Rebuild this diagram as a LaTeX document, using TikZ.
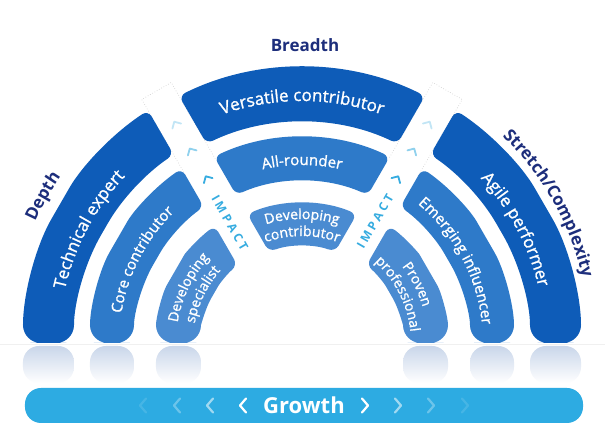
\documentclass[tikz,border=0pt]{standalone}
\usepackage{fontspec}
\setmainfont{Open Sans}
\newfontfamily\bandface{Open Sans}[FakeBold=1.2]
\usetikzlibrary{decorations.text}

\definecolor{outerblue}{HTML}{0E5CB8}
\definecolor{midblue}{HTML}{2E7AC9}
\definecolor{innerblue}{HTML}{4A8BD1}
\definecolor{titleblue}{HTML}{1D2E7C}
\definecolor{impactcyan}{HTML}{36ACE0}
\definecolor{growthcyan}{HTML}{2DABE2}
\definecolor{mirror}{HTML}{C9D6EA}

\newcommand{\hw}{17} % half width of the impact lanes
\newcommand{\bandfont}{\bandface\fontsize{17}{20}\selectfont}
\newcommand{\midfont}{\bandface\fontsize{15}{18}\selectfont}
\newcommand{\smallfont}{\bandface\fontsize{14}{16}\selectfont}
\newcommand{\titlefont}{\bfseries\fontsize{17}{20}\selectfont}

% left band: colour, inner radius, outer radius
\newcommand{\sideband}[3]{%
  \fill[#1] ({-(#2+#3)/2},0) [rounded corners=18pt] -- (180:#3)
    arc[start angle=180, end angle=150, radius=#3]
    [rounded corners=7pt] arc[start angle=150, end angle={120+asin(\hw/#3)}, radius=#3]
    -- ({120+asin(\hw/#2)}:#2)
    arc[start angle={120+asin(\hw/#2)}, end angle=150, radius=#2]
    [rounded corners=18pt] arc[start angle=150, end angle=180, radius=#2]
    -- cycle;}
% top band: colour, inner radius, outer radius
\newcommand{\topband}[3]{%
  \fill[#1, rounded corners=7pt] ({120-asin(\hw/#3)}:#3)
    arc[start angle={120-asin(\hw/#3)}, end angle={60+asin(\hw/#3)}, radius=#3]
    -- ({60+asin(\hw/#2)}:#2)
    arc[start angle={60+asin(\hw/#2)}, end angle={120-asin(\hw/#2)}, radius=#2]
    -- cycle;}
% text on a clockwise arc: colour, font, radius, from, to, text
\newcommand{\arctext}[6]{%
  \path[decorate, decoration={text along path, text align=center,
    text color=#1, text={|#2|#6}}]
    (#4:#3) arc[start angle=#4, end angle=#5, radius=#3];}

\begin{document}
\begin{tikzpicture}[x=1pt, y=1pt,
  lane/.style={gray!40, dotted, line width=0.6pt},
  chev/.pic={\draw (-3.5,5) -- (1.5,0) -- (-3.5,-5);},
  barchev/.pic={\draw (-3,7) -- (3,0) -- (-3,-7);},
  impact/.style={text=impactcyan, font=\bfseries\fontsize{12}{14}\selectfont, inner sep=0pt},
  title/.style={text=titleblue, font=\titlefont, inner sep=0pt}]
\useasboundingbox (-302,-84) rectangle (303,343);
\fill[white] (-302,-84) rectangle (303,343);

% floor and mirror images
\draw[gray!12, line width=0.6pt] (-302,-1) -- (303,-1);
\foreach \a/\b in {-279/-228, -212/-168, -146/-101, 101/146, 168/212, 228/279}
  \shade[top color=mirror, bottom color=white, rounded corners=16pt]
    (\a,-40) -- (\a,-3) -- (\b,-3) -- (\b,-40) -- cycle;

% impact lanes
\foreach \ang in {60,120}
  \draw[lane, rotate=\ang] (203,-\hw) -- (291,-\hw) -- (291,\hw) -- (203,\hw);

% bands
\foreach \c/\ri/\ro in {outerblue/228/279, midblue/168/212, innerblue/101/146} {
  \sideband{\c}{\ri}{\ro}
  \begin{scope}[xscale=-1]
    \sideband{\c}{\ri}{\ro}
  \end{scope}
}
\topband{outerblue}{221}{276}
\topband{midblue}{162}{206}
\topband{innerblue}{97}{140}

% band labels
\arctext{white}{\bandfont}{242}{130}{50}{Versatile contributor}
\arctext{white}{\bandfont}{243}{178}{126}{Technical expert}
\arctext{white}{\bandfont}{243}{54}{2}{Agile performer}
\arctext{white}{\midfont}{178}{125}{55}{All-rounder}
\arctext{white}{\midfont}{183}{180}{125}{Core contributor}
\arctext{white}{\midfont}{181}{55}{1}{Emerging influencer}
\arctext{white}{\smallfont}{124}{125}{55}{Developing}
\arctext{white}{\smallfont}{107}{125}{55}{contributor}
\arctext{white}{\smallfont}{126}{180}{128}{Developing}
\arctext{white}{\smallfont}{109}{180}{128}{specialist}
\arctext{white}{\smallfont}{126}{52}{2}{Proven}
\arctext{white}{\smallfont}{109}{52}{2}{professional}

% titles
\node[title] (breadth) at (3,298) {Breadth};
\arctext{titleblue}{\titlefont}{293}{175}{126}{Depth}
\arctext{titleblue}{\titlefont}{288}{62}{-3}{Stretch/Complexity}

% lane arrows and impact
\foreach \ang in {60,120}
  \foreach \r/\op in {191/1, 223/.55, 254/.3}
    \pic[impactcyan, line width=1.8pt, line cap=round, line join=round,
      opacity=\op, rotate=\ang] at (\ang:\r) {chev};
\node[impact, rotate=-60] (impactL) at (121:140) {I\kern3pt M\kern3pt P\kern3pt A\kern3pt C\kern3pt T};
\node[impact, rotate=60] (impactR) at (59:142) {I\kern3pt M\kern3pt P\kern3pt A\kern3pt C\kern3pt T};

% growth bar
\fill[growthcyan, rounded corners=16pt] (-277,-80) rectangle (281,-45);
\node[text=white, font=\bfseries\fontsize{22}{26}\selectfont, inner sep=0pt] (growth) at (2,-62.5) {Growth};
\foreach \d/\op in {61/1, 94/.55, 127/.3, 161/.12} {
  \pic[white, line width=2.2pt, line cap=round, line join=round, opacity=\op, rotate=180] at ({2-\d},-62.5) {barchev};
  \pic[white, line width=2.2pt, line cap=round, line join=round, opacity=\op] at ({2+\d},-62.5) {barchev};
}
\end{tikzpicture}
\end{document}
